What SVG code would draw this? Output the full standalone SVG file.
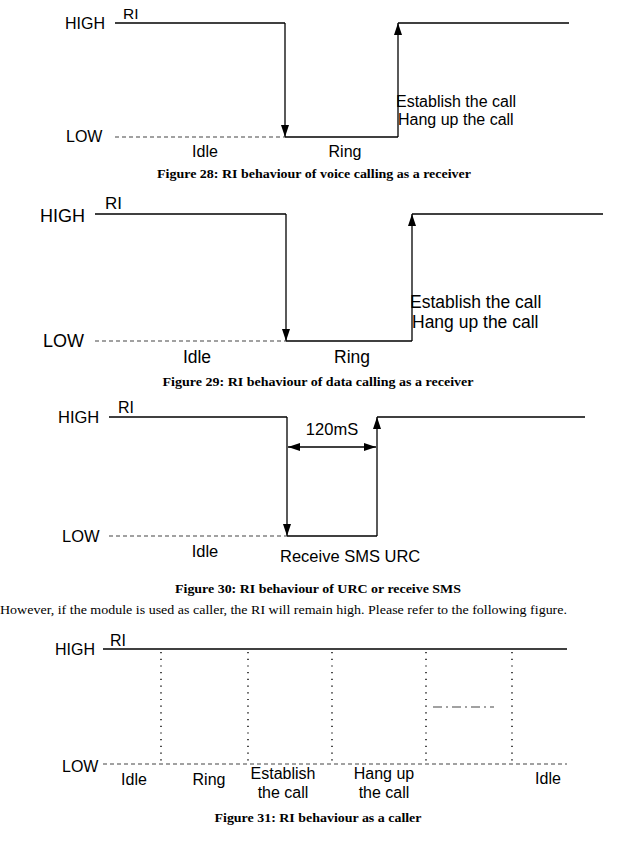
<svg xmlns="http://www.w3.org/2000/svg" width="644" height="850" viewBox="0 0 644 850">
<defs>
<marker id="ah" viewBox="0 0 12 8" refX="12" refY="4" markerWidth="12" markerHeight="8" orient="auto-start-reverse" markerUnits="userSpaceOnUse"><path d="M0,0 L12,4 L0,8 z" fill="#000"/></marker>
</defs>
<style>
.sig{fill:none;stroke:#000;stroke-width:1.3}
.dash{fill:none;stroke:#444;stroke-width:1.2;stroke-dasharray:4 3}
.dot{fill:none;stroke:#000;stroke-width:1.4;stroke-dasharray:1.2 5.5}
.dd{fill:none;stroke:#444;stroke-width:1.2;stroke-dasharray:9 4 2 4}
.arr{fill:none;stroke:#000;stroke-width:1.3;marker-end:url(#ah)}
.lbl{font-family:"Liberation Sans",Arial,sans-serif;fill:#000}
.cap{font-family:"Liberation Serif","Times New Roman",serif;font-weight:bold;font-size:12px;fill:#000}
.body{font-family:"Liberation Serif","Times New Roman",serif;font-size:12px;fill:#000}
</style>

<g id="fig28">
<text class="lbl" x="65" y="29" font-size="16">HIGH</text>
<text class="lbl" x="123" y="19" font-size="15.5">RI</text>
<text class="lbl" x="66" y="142" font-size="16">LOW</text>
<polyline class="sig" points="115,23 285,23"/>
<line class="arr" x1="285" y1="23" x2="285" y2="137"/>
<line class="dash" x1="115" y1="137" x2="285" y2="137"/>
<polyline class="sig" points="285,137 398,137"/>
<line class="arr" x1="398" y1="137" x2="398" y2="23"/>
<line class="sig" x1="398" y1="23" x2="569" y2="23"/>
<text class="lbl" x="396" y="107" font-size="16">Establish the call</text>
<text class="lbl" x="398" y="125" font-size="16">Hang up the call</text>
<text class="lbl" x="205" y="157" font-size="16" text-anchor="middle">Idle</text>
<text class="lbl" x="345" y="157" font-size="16" text-anchor="middle">Ring</text>
<text class="cap" x="314" y="178" text-anchor="middle" textLength="314" lengthAdjust="spacingAndGlyphs">Figure 28: RI behaviour of voice calling as a receiver</text>
</g>

<g id="fig29">
<text class="lbl" x="40" y="222" font-size="18">HIGH</text>
<text class="lbl" x="105" y="209" font-size="17">RI</text>
<text class="lbl" x="43" y="347" font-size="18">LOW</text>
<line class="sig" x1="95" y1="214" x2="286" y2="214"/>
<line class="arr" x1="286" y1="214" x2="286" y2="341"/>
<line class="dash" x1="95" y1="341" x2="286" y2="341"/>
<line class="sig" x1="286" y1="341" x2="412" y2="341"/>
<line class="arr" x1="412" y1="341" x2="412" y2="214"/>
<line class="sig" x1="412" y1="214" x2="603" y2="214"/>
<text class="lbl" x="410" y="308" font-size="17.5">Establish the call</text>
<text class="lbl" x="412" y="328" font-size="17.5">Hang up the call</text>
<text class="lbl" x="197" y="363" font-size="17.5" text-anchor="middle">Idle</text>
<text class="lbl" x="352" y="363" font-size="17.5" text-anchor="middle">Ring</text>
<text class="cap" x="318" y="386" text-anchor="middle" textLength="311" lengthAdjust="spacingAndGlyphs">Figure 29: RI behaviour of data calling as a receiver</text>
</g>

<g id="fig30">
<text class="lbl" x="58" y="423" font-size="16.5">HIGH</text>
<text class="lbl" x="118" y="413" font-size="16">RI</text>
<text class="lbl" x="62" y="542" font-size="16.5">LOW</text>
<line class="sig" x1="109" y1="417" x2="287" y2="417"/>
<line class="arr" x1="287" y1="417" x2="287" y2="536"/>
<line class="dash" x1="109" y1="536" x2="287" y2="536"/>
<line class="sig" x1="287" y1="536" x2="377" y2="536"/>
<line class="arr" x1="377" y1="536" x2="377" y2="417"/>
<line class="sig" x1="377" y1="417" x2="585" y2="417"/>
<line class="arr" x1="288" y1="447" x2="376" y2="447" style="marker-start:url(#ah)"/>
<text class="lbl" x="332" y="435" font-size="16.5" text-anchor="middle">120mS</text>
<text class="lbl" x="205" y="557" font-size="16.5" text-anchor="middle">Idle</text>
<text class="lbl" x="280" y="562" font-size="16.5">Receive SMS URC</text>
<text class="cap" x="318" y="593" text-anchor="middle" textLength="286" lengthAdjust="spacingAndGlyphs">Figure 30: RI behaviour of URC or receive SMS</text>
</g>

<text class="body" x="0" y="614" textLength="567" lengthAdjust="spacingAndGlyphs">However, if the module is used as caller, the RI will remain high. Please refer to the following figure.</text>

<g id="fig31">
<text class="lbl" x="55" y="655" font-size="16">HIGH</text>
<text class="lbl" x="110" y="646" font-size="16">RI</text>
<text class="lbl" x="62" y="772" font-size="16">LOW</text>
<line class="sig" x1="103" y1="649" x2="567" y2="649"/>
<line class="dash" x1="103" y1="764" x2="567" y2="764"/>
<line class="dot" x1="161" y1="652" x2="161" y2="762"/>
<line class="dot" x1="248" y1="652" x2="248" y2="762"/>
<line class="dot" x1="332" y1="652" x2="332" y2="762"/>
<line class="dot" x1="426" y1="652" x2="426" y2="762"/>
<line class="dot" x1="512" y1="652" x2="512" y2="762"/>
<line class="dd" x1="433" y1="707" x2="494" y2="707"/>
<text class="lbl" x="134" y="785" font-size="16" text-anchor="middle">Idle</text>
<text class="lbl" x="209" y="785" font-size="16" text-anchor="middle">Ring</text>
<text class="lbl" x="283" y="779" font-size="16" text-anchor="middle">Establish</text>
<text class="lbl" x="283" y="798" font-size="16" text-anchor="middle">the call</text>
<text class="lbl" x="384" y="779" font-size="16" text-anchor="middle">Hang up</text>
<text class="lbl" x="384" y="798" font-size="16" text-anchor="middle">the call</text>
<text class="lbl" x="548" y="784" font-size="16" text-anchor="middle">Idle</text>
<text class="cap" x="318" y="822" text-anchor="middle" textLength="207" lengthAdjust="spacingAndGlyphs">Figure 31: RI behaviour as a caller</text>
</g>
</svg>
